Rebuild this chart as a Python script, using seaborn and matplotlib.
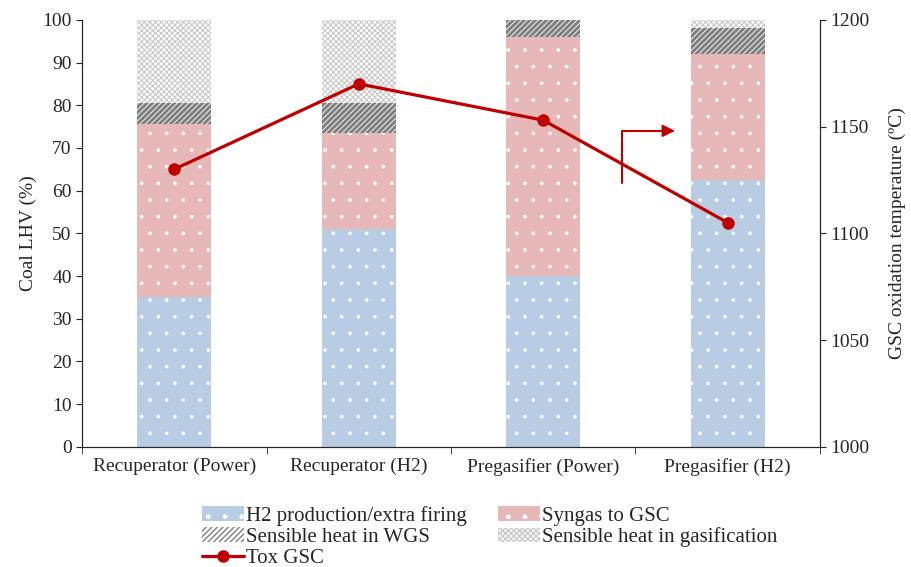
import numpy as np
import seaborn as sns
import matplotlib.pyplot as plt

sns.set_style("ticks")
plt.rcParams['font.family'] = ['Liberation Serif', 'DejaVu Serif']

categories = ["Recuperator (Power)", "Recuperator (H2)", "Pregasifier (Power)", "Pregasifier (H2)"]
h2_production = [35, 51, 40, 62.5]
syngas_gsc = [40.5, 22.5, 56, 29.5]
heat_wgs = [5, 7, 4, 6]
heat_gasif = [19.5, 19.5, 0, 2]
tox_gsc = [1130, 1170, 1153, 1105]

fig = plt.figure(figsize=(9.12, 5.67), dpi=100)
ax = fig.add_axes([0.09, 0.212, 0.809, 0.753])

layers = [
    ("H2 production/extra firing", h2_production, "#b8cce4", "white", "."),
    ("Syngas to GSC", syngas_gsc, "#e6b9b8", "white", "."),
    ("Sensible heat in WGS", heat_wgs, "white", "#7f7f7f", "//////"),
    ("Sensible heat in gasification", heat_gasif, "white", "#c8c8c8", "xxxxxx"),
]

bottom = np.zeros(len(categories))
handles = {}
for label, vals, fc, hc, hatch in layers:
    sns.barplot(x=categories, y=vals, bottom=bottom, color=fc, edgecolor=hc,
                hatch=hatch, linewidth=0, width=0.4, ax=ax, label=label,
                saturation=1)
    cont = ax.containers[-1]
    for p in cont.patches:
        p.set_facecolor(fc)
        if hatch.startswith("/"):
            p.set_hatch_linewidth(2.2)
        elif hatch == ".":
            p.set_hatch_linewidth(0.2)
        else:
            p.set_hatch_linewidth(0.8)
    handles[label] = cont
    bottom = bottom + np.array(vals)

if ax.get_legend() is not None:
    ax.get_legend().remove()

ax.set_ylim(0, 100)
ax.set_yticks(range(0, 101, 10))
ax.set_xlim(-0.5, len(categories) - 0.5)
ax.set_ylabel("Coal LHV (%)", fontsize=14, color="#262626")
ax.set_xlabel("")
ax.tick_params(axis="y", labelsize=14, colors="#262626", direction="out", length=4)
ax.tick_params(axis="x", which="major", length=0, labelsize=14, colors="#262626", pad=8)
ax.set_xticks(np.arange(-0.5, len(categories), 1.0), minor=True)
ax.tick_params(axis="x", which="minor", length=5, direction="out", color="#262626")
ax.spines["top"].set_visible(False)
for s in ["left", "bottom"]:
    ax.spines[s].set_color("#262626")

ax2 = ax.twinx()
sns.lineplot(x=np.arange(len(categories)), y=tox_gsc, color="#c00000", linewidth=2.3,
             marker="o", markersize=9, markeredgewidth=0, ax=ax2, label="Tox GSC",
             legend=False)
ax2.set_ylim(1000, 1200)
ax2.set_yticks(range(1000, 1201, 50))
ax2.set_xlim(-0.5, len(categories) - 0.5)
ax2.set_ylabel("GSC oxidation temperature (ºC)", fontsize=14, color="#262626", labelpad=14)
ax2.tick_params(axis="y", labelsize=14, colors="#262626", direction="out", length=4)
ax2.spines["top"].set_visible(False)
ax2.spines["right"].set_color("#262626")

ax2.annotate("", xy=(0.8035, 0.740), xytext=(0.732, 0.618), xycoords="axes fraction",
             textcoords="axes fraction",
             arrowprops=dict(arrowstyle="-|>", color="#c00000", lw=1.5,
                             mutation_scale=18, shrinkA=0, shrinkB=0,
                             connectionstyle="angle,angleA=90,angleB=0,rad=0"))

line_handle = ax2.get_lines()[0]
order = [handles["H2 production/extra firing"], handles["Sensible heat in WGS"], line_handle,
         handles["Syngas to GSC"], handles["Sensible heat in gasification"]]
labels = ["H2 production/extra firing", "Sensible heat in WGS", "Tox GSC",
          "Syngas to GSC", "Sensible heat in gasification"]
fig.legend(order, labels, loc="lower center", bbox_to_anchor=(0.537, -0.035), ncol=2,
           frameon=False, fontsize=15, handlelength=2.0, handleheight=0.7,
           labelspacing=0.08, columnspacing=1.5, handletextpad=0.1,
           labelcolor="#262626")

fig.savefig("out.png", dpi=100)
